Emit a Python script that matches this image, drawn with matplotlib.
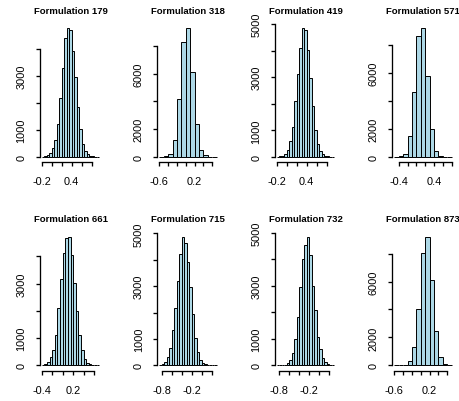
import matplotlib
matplotlib.use("Agg")
import matplotlib.pyplot as plt
import numpy as np

plt.rcParams['font.family'] = ['Liberation Sans', 'DejaVu Sans']

# posterior draws per formulation, binned like R's hist()
titles = ["Formulation 179", "Formulation 318", "Formulation 419", "Formulation 571",
          "Formulation 661", "Formulation 715", "Formulation 732", "Formulation 873"]

bin_start = [-0.2, -0.6, -0.2, -0.5, -0.4, -0.85, -0.85, -0.6]
bin_width = [0.05, 0.1, 0.05, 0.1, 0.05, 0.05, 0.05, 0.1]

counts_179 = [10, 25, 75, 140, 325, 640, 1225, 2175, 3290, 4420, 4790, 4720,
              3950, 2990, 1860, 1040, 490, 225, 90, 40, 20, 8, 3]
counts_318 = [10, 50, 200, 1200, 4200, 8300, 9300, 6100, 2350, 490, 100, 25, 5]
counts_419 = [5, 15, 40, 90, 240, 590, 1140, 2110, 3115, 4120, 4850, 4790,
              4020, 2990, 1935, 1030, 500, 225, 90, 40, 15, 5, 2]
counts_571 = [5, 40, 230, 1510, 4650, 8700, 9230, 5770, 2000, 430, 85, 15, 3]
counts_661 = [20, 50, 120, 290, 570, 1120, 2100, 3170, 4110, 4680, 4720, 4050,
              3010, 1975, 1100, 570, 245, 100, 40, 15, 5, 2]
counts_715 = [15, 50, 130, 300, 655, 1335, 2165, 3200, 4220, 4875, 4620, 3900,
              2950, 1950, 1030, 500, 220, 90, 35, 12, 5, 2, 1]
counts_732 = [2, 5, 12, 30, 80, 200, 450, 1000, 1830, 2970, 4020, 4530, 4850,
              4150, 3000, 2100, 1050, 600, 290, 110, 45, 15, 5]
counts_873 = [3, 10, 50, 285, 1310, 4020, 8020, 9210, 6140, 2430, 570, 120, 30]

all_counts = [counts_179, counts_318, counts_419, counts_571,
              counts_661, counts_715, counts_732, counts_873]

# axis ticks: (first, last, step) and the labels R manages to fit
x_ticks = [(-0.2, 0.8, 0.2), (-0.6, 0.6, 0.2), (-0.2, 0.8, 0.2), (-0.4, 0.8, 0.2),
           (-0.4, 0.6, 0.2), (-0.8, 0.2, 0.2), (-0.8, 0.2, 0.2), (-0.6, 0.6, 0.2)]
x_shown = [[-0.2, 0.4], [-0.6, 0.2], [-0.2, 0.4], [-0.4, 0.4],
           [-0.4, 0.2], [-0.8, -0.2], [-0.8, -0.2], [-0.6, 0.2]]
y_step = [1000, 2000, 1000, 2000, 1000, 1000, 1000, 2000]
y_shown = [[0, 1000, 3000], [0, 2000, 6000], [0, 1000, 3000, 5000], [0, 2000, 6000],
           [0, 1000, 3000], [0, 1000, 3000, 5000], [0, 1000, 3000, 5000], [0, 2000, 6000]]

W, H = 459, 402
fig = plt.figure(figsize=(W / 100, H / 100), dpi=100)

for i in range(8):
    r, c = divmod(i, 4)
    left = 39.5 + 117.5 * c
    bottom = 163 + 208.5 * r
    ax = fig.add_axes([left / W, 1 - bottom / H, 62 / W, 139 / H])

    cnt = np.array(all_counts[i])
    edges = bin_start[i] + bin_width[i] * np.arange(len(cnt) + 1)
    ax.bar(edges[:-1], cnt, width=bin_width[i], align='edge',
           color='lightblue', edgecolor='black', linewidth=0.7)

    # R pads the data range by 4% on each side
    span = edges[-1] - edges[0]
    ax.set_xlim(edges[0] - 0.04 * span, edges[-1] + 0.04 * span)
    m = cnt.max()
    ax.set_ylim(-0.04 * m, 1.04 * m)

    lo, hi, st = x_ticks[i]
    xt = np.round(np.arange(lo, hi + st / 2, st), 2)
    ax.set_xticks(xt)
    ax.set_xticklabels([f"{v:g}" if np.any(np.isclose(v, x_shown[i])) else "" for v in xt])

    yt = np.arange(0, 1.04 * m, y_step[i])
    ax.set_yticks(yt)
    ax.set_yticklabels([str(int(v)) if int(v) in y_shown[i] else "" for v in yt],
                       rotation=90, va='center')

    for s in ['top', 'right']:
        ax.spines[s].set_visible(False)
    ax.spines['bottom'].set_bounds(xt[0], xt[-1])
    ax.spines['left'].set_bounds(0, yt[-1])
    for s in ['bottom', 'left']:
        ax.spines[s].set_linewidth(0.95)

    ax.tick_params(axis='both', direction='out', length=2.9, width=0.95,
                   labelsize=7.9, colors='black')
    ax.tick_params(axis='x', pad=7.5)
    ax.tick_params(axis='y', pad=6.5)
    ax.set_title(titles[i], fontsize=6.8, fontweight='bold', pad=7.2)

fig.savefig("out.png", dpi=100)
